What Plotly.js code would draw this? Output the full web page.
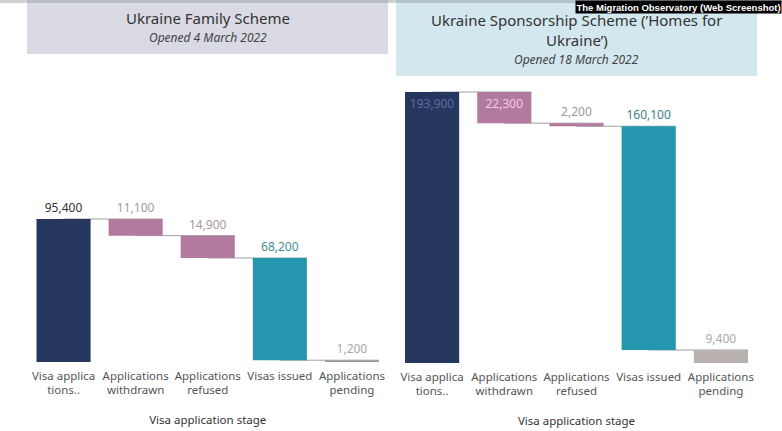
<!DOCTYPE html>
<html>
<head>
<meta charset="utf-8">
<script src="https://cdn.plot.ly/plotly-3.0.1.min.js"></script>
<style>html,body{margin:0;padding:0;background:#fff;}#chart{width:782px;height:431px;}</style>
</head>
<body>
<div id="chart"></div>
<script>
// ---- data ----
const categories = ["Visa applica<br>tions..", "Applications<br>withdrawn", "Applications<br>refused", "Visas issued", "Applications<br>pending"];
const familyValues = [95400, 11100, 14900, 68200, 1200];
const sponsorValues = [193900, 22300, 2200, 160100, 9400];
const familyTitle = "Ukraine Family Scheme";
const familySubtitle = "Opened 4 March 2022";
const sponsorTitle1 = "Ukraine Sponsorship Scheme (\u2019Homes for";
const sponsorTitle2 = "Ukraine\u2019)";
const sponsorSubtitle = "Opened 18 March 2022";
const axisTitle = "Visa application stage";
const badgeText = "The Migration Observatory (Web Screenshot)";

// ---- styles ----
const barColors = ["#26375f", "#b27a9f", "#b27a9f", "#2496ad", "#b8b1ad"];
const familyBarColors = ["#26375f", "#b27a9f", "#b27a9f", "#2496ad", "#9e9e9e"];
const familyLabelColors = ["#333333", "#a8969f", "#a8969f", "#3d8f92", "#a9a9a9"];
const sponsorLabelColors = ["#5b6b9e", "#f0cde2", "#9a9a9a", "#3e7f86", "#a9a9a9"];
const familyTextPos = ["outside", "outside", "outside", "outside", "outside"];
const sponsorTextPos = ["inside", "inside", "outside", "outside", "outside"];

function waterfall(values) {
  const bases = [], ends = [];
  let level = 0;
  values.forEach((v, i) => {
    if (i === 0) { bases.push(0); level = v; }
    else { level = level - v; bases.push(level); }
    ends.push(level);
  });
  return {bases, ends};
}
const fmt = v => v.toLocaleString("en-US");

const fw = waterfall(familyValues);
const sw = waterfall(sponsorValues);

const W = 782, H = 431;
const px2x = p => p / W;
const px2y = p => 1 - p / H;

function barTrace(values, wf, colors, labelColors, textPos, xa, ya) {
  return {
    type: "bar",
    x: categories,
    y: values,
    base: wf.bases,
    width: 0.75,
    marker: {color: colors, line: {width: 0}},
    text: values.map(fmt),
    textposition: textPos,
    insidetextanchor: "end",
    constraintext: "none",
    textfont: {family: "Noto Sans, sans-serif", size: 12, color: labelColors},
    cliponaxis: false,
    hoverinfo: "none",
    xaxis: xa, yaxis: ya,
    showlegend: false
  };
}

function connectors(wf, xref, yref) {
  const shapes = [];
  for (let i = 0; i < wf.ends.length - 1; i++) {
    shapes.push({
      type: "line", xref: xref, yref: yref, layer: "below",
      x0: i, x1: i + 1 + 0.375, y0: wf.ends[i], y1: wf.ends[i],
      line: {color: "#a0a0a0", width: 1}
    });
  }
  return shapes;
}

const data = [
  barTrace(familyValues, fw, familyBarColors, familyLabelColors, familyTextPos, "x", "y"),
  barTrace(sponsorValues, sw, barColors, sponsorLabelColors, sponsorTextPos, "x2", "y2")
];

const tickfont = {family: "Noto Sans, sans-serif", size: 11.5, color: "#555555"};
const xCommon = {
  type: "category", showgrid: false, zeroline: false, showline: false,
  ticks: "", tickfont: tickfont, ticklabelstandoff: 5, fixedrange: true,
  title: {text: axisTitle, font: {family: "Noto Sans, sans-serif", size: 11.5, color: "#333333"}, standoff: 19}
};

const layout = {
  width: W, height: H,
  margin: {l: 0, r: 0, t: 0, b: 0},
  paper_bgcolor: "#ffffff", plot_bgcolor: "#ffffff",
  bargap: 0.25,
  xaxis: Object.assign({}, xCommon, {domain: [px2x(27.5), px2x(388)], anchor: "y"}),
  yaxis: {domain: [px2y(362), px2y(80)], range: [0, (362 - 80) / 1.499 * 1000], visible: false, fixedrange: true},
  xaxis2: Object.assign({}, xCommon, {domain: [px2x(396), px2x(757)], anchor: "y2"}),
  yaxis2: {domain: [px2y(363), px2y(80)], range: [0, (363 - 80) / 1.3976 * 1000], visible: false, fixedrange: true},
  shapes: [
    {type: "rect", xref: "paper", yref: "paper", x0: px2x(27), x1: px2x(388), y0: px2y(54), y1: 1, fillcolor: "#d9dae3", line: {width: 0}, layer: "below"},
    {type: "rect", xref: "paper", yref: "paper", x0: px2x(396), x1: px2x(757), y0: px2y(76), y1: 1, fillcolor: "#d3e7ee", line: {width: 0}, layer: "below"},
    {type: "rect", xref: "paper", yref: "paper", x0: 0, x1: 1, y0: px2y(3), y1: 1, fillcolor: "#8f9a9a", opacity: 0.45, line: {width: 0}, layer: "above"}
  ].concat(connectors(fw, "x", "y"), connectors(sw, "x2", "y2")),
  annotations: [
    {text: familyTitle, xref: "paper", yref: "paper", x: px2x(207.75), y: px2y(18), showarrow: false, xanchor: "center", yanchor: "middle",
     font: {family: "Noto Sans, sans-serif", size: 15, color: "#333333"}},
    {text: "<i>" + familySubtitle + "</i>", xref: "paper", yref: "paper", x: px2x(207.75), y: px2y(38), showarrow: false, xanchor: "center", yanchor: "middle",
     font: {family: "Noto Sans, sans-serif", size: 12, color: "#444444"}},
    {text: sponsorTitle1, xref: "paper", yref: "paper", x: px2x(576.5), y: px2y(20), showarrow: false, xanchor: "center", yanchor: "middle",
     font: {family: "Noto Sans, sans-serif", size: 15, color: "#333333"}},
    {text: sponsorTitle2, xref: "paper", yref: "paper", x: px2x(576.5), y: px2y(40), showarrow: false, xanchor: "center", yanchor: "middle",
     font: {family: "Noto Sans, sans-serif", size: 15, color: "#333333"}},
    {text: "<i>" + sponsorSubtitle + "</i>", xref: "paper", yref: "paper", x: px2x(576.5), y: px2y(60), showarrow: false, xanchor: "center", yanchor: "middle",
     font: {family: "Noto Sans, sans-serif", size: 12, color: "#444444"}},
    {text: "<b>" + badgeText + "</b>", xref: "paper", yref: "paper", x: 1, y: 1, showarrow: false, xanchor: "right", yanchor: "top",
     bgcolor: "#000000", borderpad: 0.5,
     font: {family: "Liberation Sans, Arial, sans-serif", size: 9.5, color: "#ffffff"}}
  ]
};

Plotly.newPlot("chart", data, layout, {displayModeBar: false, staticPlot: true});
</script>
</body>
</html>
